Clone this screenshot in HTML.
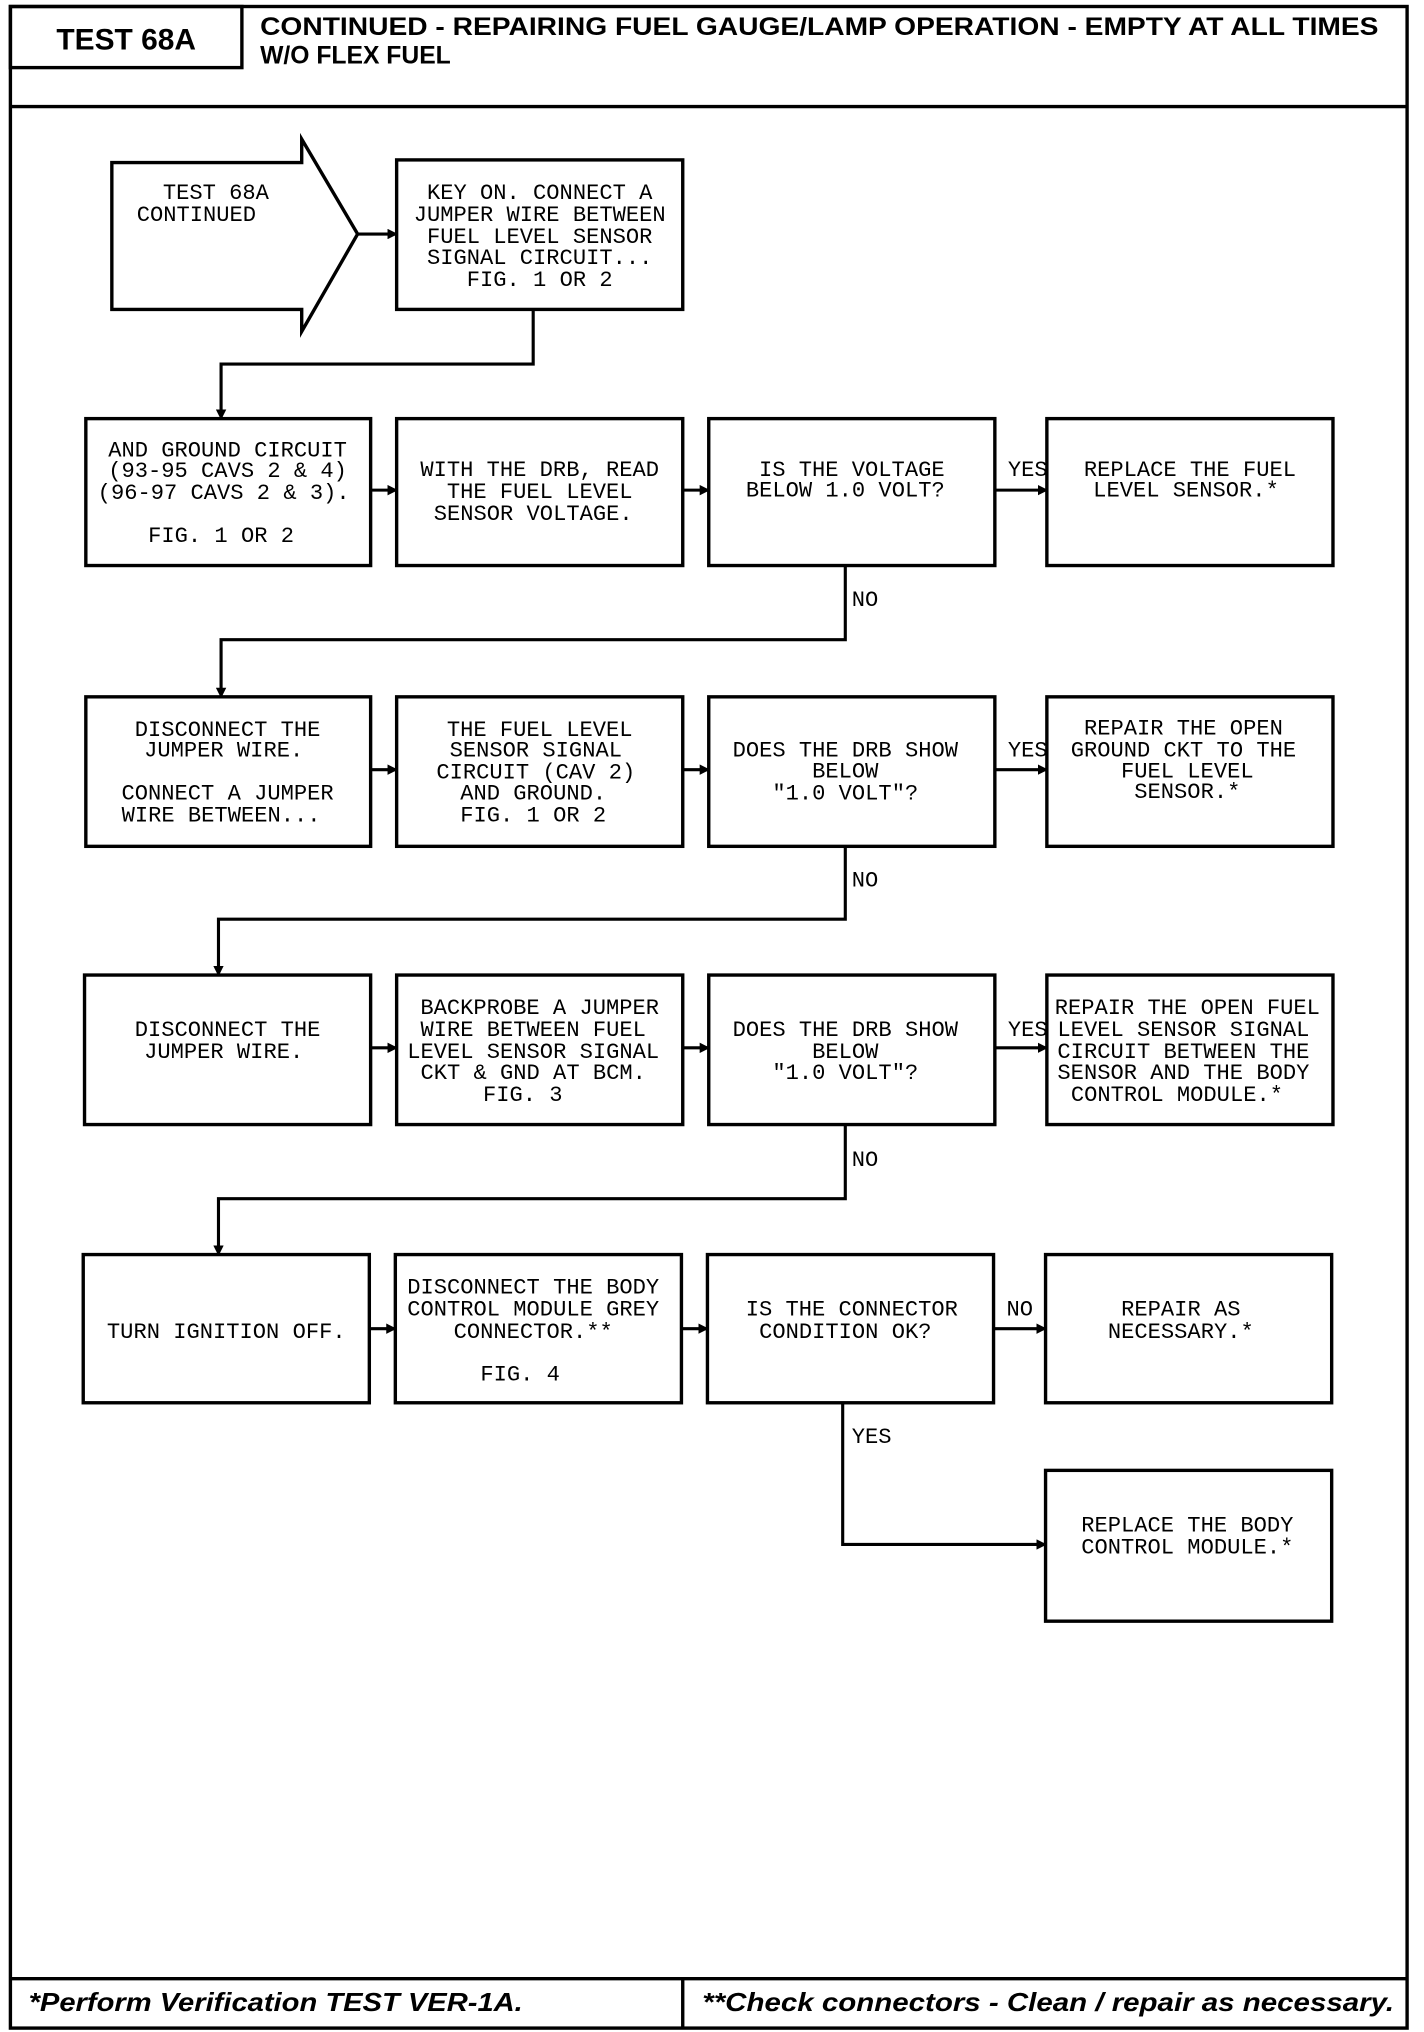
<!DOCTYPE html>
<html><head><meta charset="utf-8"><style>
html,body{margin:0;padding:0;background:#fff;}
svg{display:block;}
.t{font-family:"Liberation Mono",monospace;font-size:17px;text-anchor:middle;fill:#000;}
.l{font-family:"Liberation Mono",monospace;font-size:17px;fill:#000;}
.b{fill:none;stroke:#000;stroke-width:2.6;}
.c{fill:none;stroke:#000;stroke-width:2.4;}
</style></head><body>
<svg width="1424" height="2032" viewBox="0 0 1095 1563" preserveAspectRatio="none">
<defs><marker id="a" markerWidth="8" markerHeight="8" refX="7" refY="4" orient="auto" markerUnits="userSpaceOnUse"><path d="M0,0 L8,4 L0,8 z" fill="#000"/></marker></defs>
<!-- frame -->
<rect x="8" y="5" width="1074" height="1555" class="b"/>
<rect x="8" y="5" width="178" height="47" class="b"/>
<line x1="8" y1="82" x2="1082" y2="82" class="b"/>
<line x1="8" y1="1522" x2="1082" y2="1522" class="b"/>
<line x1="525" y1="1522" x2="525" y2="1560" class="b"/>
<text x="97" y="38" font-family="Liberation Sans" font-weight="bold" font-size="23" text-anchor="middle">TEST 68A</text>
<text x="200" y="27" font-family="Liberation Sans" font-weight="bold" font-size="19" textLength="860" lengthAdjust="spacingAndGlyphs">CONTINUED - REPAIRING FUEL GAUGE/LAMP OPERATION - EMPTY AT ALL TIMES</text>
<text x="200" y="49" font-family="Liberation Sans" font-weight="bold" font-size="19">W/O FLEX FUEL</text>
<text x="22" y="1547" font-family="Liberation Sans" font-weight="bold" font-style="italic" font-size="20" textLength="380" lengthAdjust="spacingAndGlyphs">*Perform Verification TEST VER-1A.</text>
<text x="540" y="1547" font-family="Liberation Sans" font-weight="bold" font-style="italic" font-size="20" textLength="532" lengthAdjust="spacingAndGlyphs">**Check connectors - Clean / repair as necessary.</text>
<!-- arrow -->
<path d="M86,125 L232,125 L232,107 L275,180 L232,255 L232,238 L86,238 Z" class="b"/>
<text class="t" x="166" y="153">TEST 68A</text>
<text class="t" x="151" y="170">CONTINUED</text>
<line x1="275" y1="180" x2="305" y2="180" class="c" marker-end="url(#a)"/>
<!-- boxes -->
<rect x="305" y="123" width="220" height="115" class="b"/>
<g class="t"><text x="415" y="153">KEY ON. CONNECT A</text><text x="415" y="170">JUMPER WIRE BETWEEN</text><text x="415" y="187">FUEL LEVEL SENSOR</text><text x="415" y="203">SIGNAL CIRCUIT...</text><text x="415" y="220">FIG. 1 OR 2</text></g>
<polyline points="410,238 410,280 170,280 170,322" class="c" marker-end="url(#a)"/>

<rect x="66" y="322" width="219" height="113" class="b"/>
<g class="t"><text x="175" y="351">AND GROUND CIRCUIT</text><text x="175" y="367">(93-95 CAVS 2 &amp; 4)</text><text x="172" y="384">(96-97 CAVS 2 &amp; 3).</text><text x="170" y="417">FIG. 1 OR 2</text></g>
<rect x="305" y="322" width="220" height="113" class="b"/>
<g class="t"><text x="415" y="366">WITH THE DRB, READ</text><text x="415" y="383">THE FUEL LEVEL</text><text x="410" y="400">SENSOR VOLTAGE.</text></g>
<rect x="545" y="322" width="220" height="113" class="b"/>
<g class="t"><text x="655" y="366">IS THE VOLTAGE</text><text x="650" y="382">BELOW 1.0 VOLT?</text></g>
<rect x="805" y="322" width="220" height="113" class="b"/>
<g class="t"><text x="915" y="366">REPLACE THE FUEL</text><text x="912" y="382">LEVEL SENSOR.*</text></g>
<line x1="285" y1="377" x2="305" y2="377" class="c" marker-end="url(#a)"/>
<line x1="525" y1="377" x2="545" y2="377" class="c" marker-end="url(#a)"/>
<line x1="765" y1="377" x2="805" y2="377" class="c" marker-end="url(#a)"/>
<text class="l" x="775" y="366">YES</text>
<polyline points="650,435 650,492 170,492 170,536" class="c" marker-end="url(#a)"/>
<text class="l" x="655" y="466">NO</text>

<rect x="66" y="536" width="219" height="115" class="b"/>
<g class="t"><text x="175" y="566">DISCONNECT THE</text><text x="172" y="582">JUMPER WIRE.</text><text x="175" y="615">CONNECT A JUMPER</text><text x="170" y="632">WIRE BETWEEN...</text></g>
<rect x="305" y="536" width="220" height="115" class="b"/>
<g class="t"><text x="415" y="566">THE FUEL LEVEL</text><text x="412" y="582">SENSOR SIGNAL</text><text x="412" y="599">CIRCUIT (CAV 2)</text><text x="410" y="615">AND GROUND.</text><text x="410" y="632">FIG. 1 OR 2</text></g>
<rect x="545" y="536" width="220" height="115" class="b"/>
<g class="t"><text x="650" y="582">DOES THE DRB SHOW</text><text x="650" y="598">BELOW</text><text x="650" y="615">"1.0 VOLT"?</text></g>
<rect x="805" y="536" width="220" height="115" class="b"/>
<g class="t"><text x="910" y="565">REPAIR THE OPEN</text><text x="910" y="582">GROUND CKT TO THE</text><text x="913" y="598">FUEL LEVEL</text><text x="913" y="614">SENSOR.*</text></g>
<line x1="285" y1="592" x2="305" y2="592" class="c" marker-end="url(#a)"/>
<line x1="525" y1="592" x2="545" y2="592" class="c" marker-end="url(#a)"/>
<line x1="765" y1="592" x2="805" y2="592" class="c" marker-end="url(#a)"/>
<text class="l" x="775" y="582">YES</text>
<polyline points="650,651 650,707 168,707 168,750" class="c" marker-end="url(#a)"/>
<text class="l" x="655" y="682">NO</text>

<rect x="65" y="750" width="220" height="115" class="b"/>
<g class="t"><text x="175" y="797">DISCONNECT THE</text><text x="172" y="814">JUMPER WIRE.</text></g>
<rect x="305" y="750" width="220" height="115" class="b"/>
<g class="t"><text x="415" y="780">BACKPROBE A JUMPER</text><text x="410" y="797">WIRE BETWEEN FUEL</text><text x="410" y="814">LEVEL SENSOR SIGNAL</text><text x="410" y="830">CKT &amp; GND AT BCM.</text><text x="402" y="847">FIG. 3</text></g>
<rect x="545" y="750" width="220" height="115" class="b"/>
<g class="t"><text x="650" y="797">DOES THE DRB SHOW</text><text x="650" y="814">BELOW</text><text x="650" y="830">"1.0 VOLT"?</text></g>
<rect x="805" y="750" width="220" height="115" class="b"/>
<g class="t"><text x="913" y="780">REPAIR THE OPEN FUEL</text><text x="910" y="797">LEVEL SENSOR SIGNAL</text><text x="910" y="814">CIRCUIT BETWEEN THE</text><text x="910" y="830">SENSOR AND THE BODY</text><text x="905" y="847">CONTROL MODULE.*</text></g>
<line x1="285" y1="806" x2="305" y2="806" class="c" marker-end="url(#a)"/>
<line x1="525" y1="806" x2="545" y2="806" class="c" marker-end="url(#a)"/>
<line x1="765" y1="806" x2="805" y2="806" class="c" marker-end="url(#a)"/>
<text class="l" x="775" y="797">YES</text>
<polyline points="650,865 650,922 168,922 168,965" class="c" marker-end="url(#a)"/>
<text class="l" x="655" y="897">NO</text>

<rect x="64" y="965" width="220" height="114" class="b"/>
<g class="t"><text x="174" y="1029">TURN IGNITION OFF.</text></g>
<rect x="304" y="965" width="220" height="114" class="b"/>
<g class="t"><text x="410" y="995">DISCONNECT THE BODY</text><text x="410" y="1012">CONTROL MODULE GREY</text><text x="410" y="1029">CONNECTOR.**</text><text x="400" y="1062">FIG. 4</text></g>
<rect x="544" y="965" width="220" height="114" class="b"/>
<g class="t"><text x="655" y="1012">IS THE CONNECTOR</text><text x="650" y="1029">CONDITION OK?</text></g>
<rect x="804" y="965" width="220" height="114" class="b"/>
<g class="t"><text x="908" y="1012">REPAIR AS</text><text x="908" y="1029">NECESSARY.*</text></g>
<line x1="284" y1="1022" x2="304" y2="1022" class="c" marker-end="url(#a)"/>
<line x1="524" y1="1022" x2="544" y2="1022" class="c" marker-end="url(#a)"/>
<line x1="764" y1="1022" x2="804" y2="1022" class="c" marker-end="url(#a)"/>
<text class="l" x="774" y="1012">NO</text>
<polyline points="648,1079 648,1188 804,1188" class="c" marker-end="url(#a)"/>
<text class="l" x="655" y="1110">YES</text>

<rect x="804" y="1131" width="220" height="116" class="b"/>
<g class="t"><text x="913" y="1178">REPLACE THE BODY</text><text x="913" y="1195">CONTROL MODULE.*</text></g>
</svg>
</body></html>
